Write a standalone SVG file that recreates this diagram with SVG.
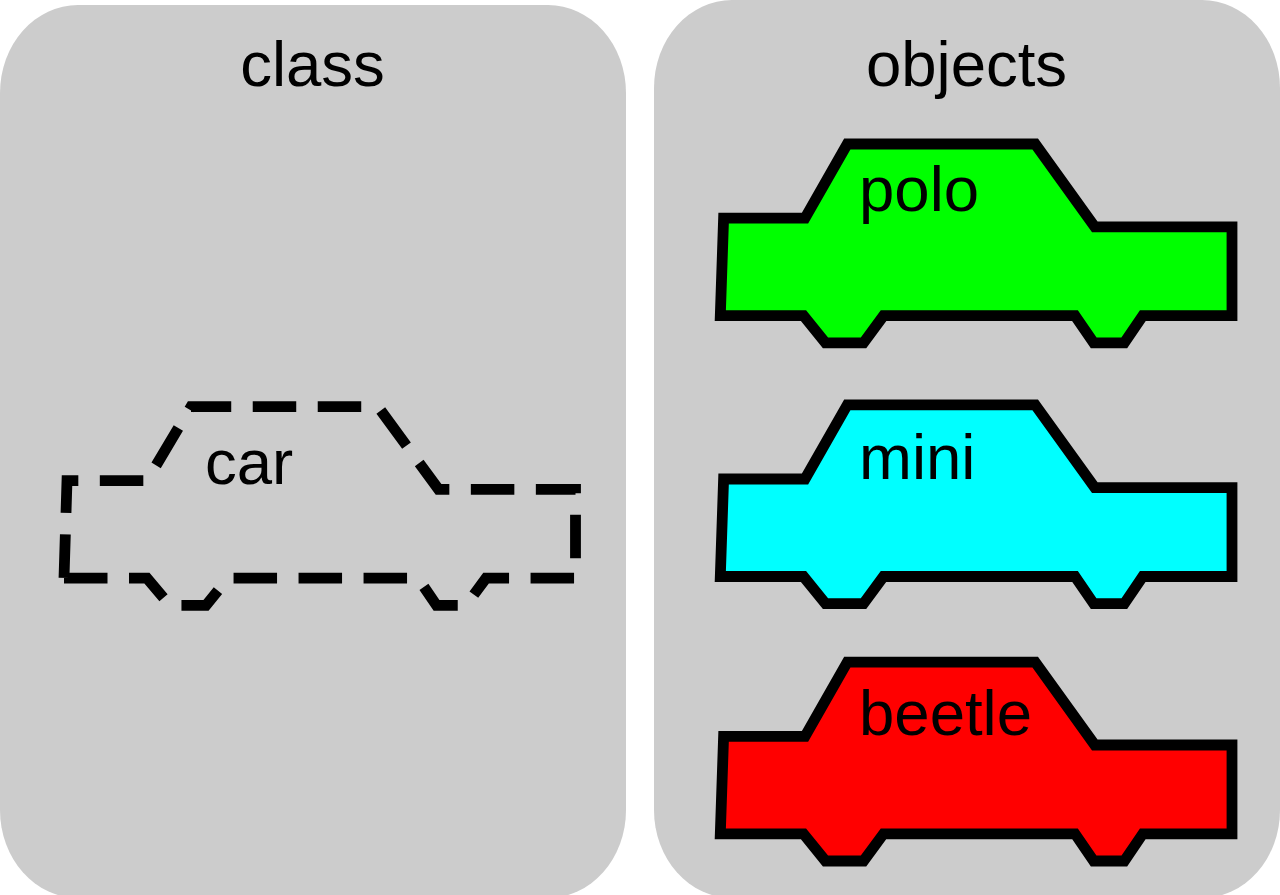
<svg xmlns="http://www.w3.org/2000/svg" width="1280" height="895" viewBox="0 0 1280 895">
<style>
text{font-family:"Liberation Sans",Arial,sans-serif;font-size:63.5px;fill:#000}
.panel{fill:#ccc}
.car{stroke:#000;stroke-width:10.8;fill:none;stroke-miterlimit:10}
</style>
<defs><path id="body" d="M723.600 479H805L847.300 404.800H1035.200L1094.800 487.700H1232V576.500H1142.800L1124.300 603.700H1093.700L1075 576.500H883.500L863.500 603.700H825.500L803.500 576.500H720.300Z"/></defs>
<rect width="1280" height="895" fill="#fff"/>
<g id="class-panel"><rect class="panel" x="0" y="5" width="626" height="893" rx="78" ry="88"/><text x="312.500" y="86" text-anchor="middle">class</text></g>
<g id="objects-panel"><rect class="panel" x="654" y="0" width="626" height="898" rx="78" ry="88"/><text x="966.500" y="86" text-anchor="middle">objects</text></g>
<g id="car"><path class="car" stroke-dasharray="43.5 21.5" d="M64 578.200H147L170 605.300H206L228 578.200H418L436.500 605.300H466L486 578.200H575.500V489.300H438.500L378 406.700H191L147 480.700H67L64 578"/><text x="205" y="484">car</text></g>
<g id="polo"><use href="#body" y="-260.800" class="car" style="fill:#0f0"/><text x="859" y="211">polo</text></g>
<g id="mini"><use href="#body" class="car" style="fill:#0ff"/><text x="859" y="479">mini</text></g>
<g id="beetle"><use href="#body" y="257.300" class="car" style="fill:#f00"/><text x="859" y="735">beetle</text></g>
</svg>
